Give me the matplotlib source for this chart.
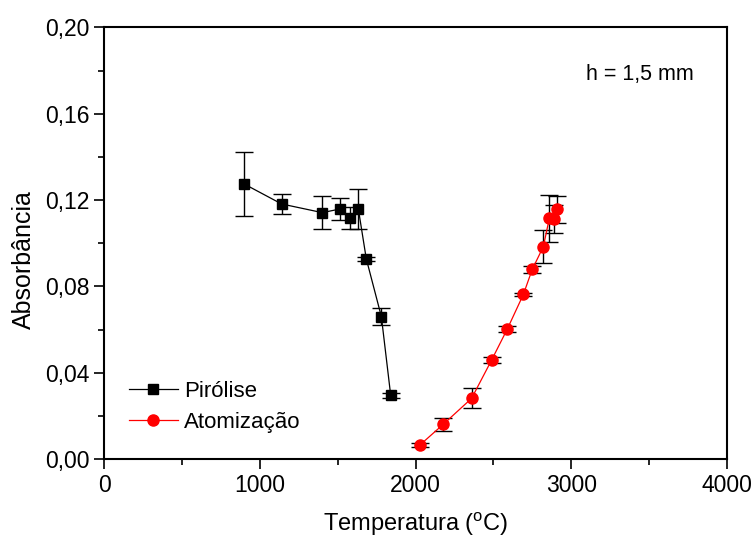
import matplotlib
matplotlib.use("Agg")
import matplotlib.pyplot as plt
from matplotlib.lines import Line2D
from matplotlib.ticker import MultipleLocator, FuncFormatter

plt.rcParams['font.family'] = ['Liberation Sans', 'DejaVu Sans']

# Pirolise data
pir_temp = [897, 1139, 1400, 1516, 1580, 1632, 1683, 1780, 1840]
pir_abs = [0.1275, 0.1182, 0.1142, 0.1159, 0.1117, 0.1159, 0.0928, 0.0660, 0.0295]
pir_err = [0.0148, 0.0048, 0.0076, 0.0052, 0.0051, 0.0093, 0.0010, 0.0041, 0.0010]

# Atomizacao data
atom_temp = [2028, 2178, 2360, 2489, 2590, 2693, 2750, 2821, 2860, 2891, 2910]
atom_abs = [0.0065, 0.0161, 0.0281, 0.0459, 0.0603, 0.0763, 0.0879, 0.0984, 0.1116, 0.1112, 0.1157]
atom_err = [0.0010, 0.0031, 0.0046, 0.0015, 0.0012, 0.0006, 0.0015, 0.0076, 0.0109, 0.0066, 0.0062]

fig = plt.figure(figsize=(7.55, 5.38), dpi=100)
ax = fig.add_axes([0.1384, 0.1468, 0.8241, 0.8021])

ax.errorbar(pir_temp, pir_abs, yerr=pir_err, color='black', marker='s', markersize=7,
            linewidth=0.9, elinewidth=1, capsize=6.5, capthick=1)
ax.errorbar(atom_temp, atom_abs, yerr=atom_err, color='red', ecolor='black', marker='o',
            markersize=8, linewidth=0.9, elinewidth=1, capsize=6.5, capthick=1)

ax.set_xlim(0, 4000)
ax.set_ylim(0, 0.20)
ax.xaxis.set_major_locator(MultipleLocator(1000))
ax.xaxis.set_minor_locator(MultipleLocator(500))
ax.yaxis.set_major_locator(MultipleLocator(0.04))
ax.yaxis.set_minor_locator(MultipleLocator(0.02))
ax.yaxis.set_major_formatter(FuncFormatter(lambda v, p: ('%.2f' % v).replace('.', ',')))

ax.tick_params(which='major', direction='out', length=7, width=1.2, labelsize=16.5)
ax.tick_params(which='minor', direction='out', length=4, width=1.2)
for s in ax.spines.values():
    s.set_linewidth(1.5)

ax.set_xlabel('Temperatura ($^\\mathregular{o}$C)', fontsize=17, labelpad=10)
ax.set_ylabel('Absorbância', fontsize=18)
ax.yaxis.set_label_coords(-0.11, 0.463)

ax.text(0.86, 0.89, 'h = 1,5 mm', transform=ax.transAxes, fontsize=15.5, ha='center', va='center')

handles = [
    Line2D([], [], color='black', marker='s', markersize=7, linewidth=0.9),
    Line2D([], [], color='red', marker='o', markersize=8, linewidth=0.9),
]
ax.legend(handles, ['Pirólise', 'Atomização'], loc='lower left', bbox_to_anchor=(0.007, 0.014),
          frameon=False, fontsize=16, handlelength=2.2, handletextpad=0.3, labelspacing=0.45)

fig.savefig('out.png', dpi=100)
